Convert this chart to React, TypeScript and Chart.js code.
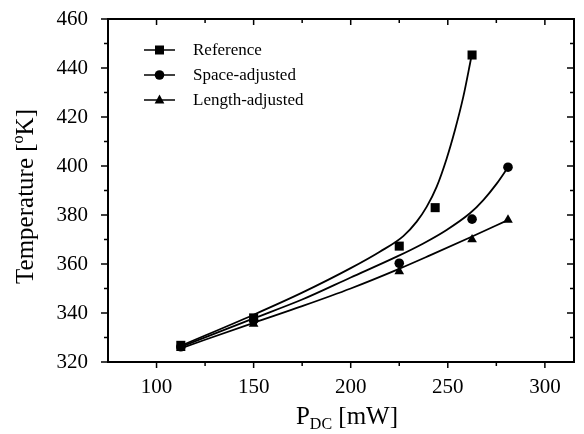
import React, { useEffect, useRef } from "react";
import { Chart, registerables } from "chart.js";

Chart.register(...registerables);

// Measured points
const pdcRef = [112.5, 150, 225, 243.5, 262.5];
const tempRef = [326.8, 338, 367.3, 383, 445.3];
const pdcSpace = [112.5, 150, 225, 262.5, 281];
const tempSpace = [326.2, 337, 360.3, 378.3, 399.5];
const pdcLength = [112.5, 150, 225, 262.5, 281];
const tempLength = [325.6, 335.5, 357, 370, 378];

// Fitted curves
const fitRefX = [112.5, 150, 175, 200, 215, 227.1, 234, 239.1, 244.3, 249.4, 253.7, 258, 262];
const fitRefY = [326.6, 339.3, 348.3, 358.3, 365, 371.4, 377.3, 383.3, 391.6, 403, 414.7, 428.3, 444];
const fitSpaceX = [112.5, 150, 175, 200, 223.7, 237.4, 249.4, 261.4, 268.3, 275.2, 281.2];
const fitSpaceY = [326.2, 337.8, 345.5, 354.5, 363, 368.4, 373.9, 380.7, 386.1, 392.8, 399.7];
const fitLengthX = [112.5, 150, 175, 200, 223.7, 240.8, 261.4, 281.2];
const fitLengthY = [325.6, 336, 342.8, 350, 357.6, 363.5, 370.8, 378];

const xTicks = [100, 150, 200, 250, 300];
const xMinor = [125, 175, 225, 275];
const yTicks = [320, 340, 360, 380, 400, 420, 440, 460];
const yMinor = [330, 350, 370, 390, 410, 430, 450];

const seriesNames = ["Reference", "Space-adjusted", "Length-adjusted"];
const seriesStyles = ["rect", "circle", "triangle"];

const FONT = "'Liberation Serif', 'Times New Roman', serif";

function pts(xs: number[], ys: number[]) {
  return xs.map((x, i) => ({ x, y: ys[i] }));
}

function drawMarker(ctx: CanvasRenderingContext2D, style: string, x: number, y: number) {
  ctx.beginPath();
  if (style === "rect") {
    ctx.rect(x - 4.5, y - 4.5, 9, 9);
  } else if (style === "circle") {
    ctx.arc(x, y, 4.8, 0, Math.PI * 2);
  } else {
    const r = 5.6;
    ctx.moveTo(x, y - r);
    ctx.lineTo(x + r * 0.866, y + r * 0.5 + 0.6);
    ctx.lineTo(x - r * 0.866, y + r * 0.5 + 0.6);
    ctx.closePath();
  }
  ctx.fill();
}

const framePlugin = {
  id: "frame",
  afterDraw(chart: any) {
    const { ctx, chartArea: a, scales } = chart;
    const xs = scales.x;
    const ys = scales.y;
    ctx.save();
    ctx.strokeStyle = "#000";
    ctx.fillStyle = "#000";
    ctx.lineWidth = 2;
    ctx.strokeRect(a.left, a.top, a.right - a.left, a.bottom - a.top);
    ctx.lineWidth = 1.5;
    ctx.beginPath();
    const tick = (vals: number[], len: number) => {
      vals.forEach((v) => {
        const px = xs.getPixelForValue(v);
        ctx.moveTo(px, a.bottom);
        ctx.lineTo(px, a.bottom + len);
        ctx.moveTo(px, a.top);
        ctx.lineTo(px, a.top + len);
      });
    };
    const ytick = (vals: number[], len: number) => {
      vals.forEach((v) => {
        const py = ys.getPixelForValue(v);
        ctx.moveTo(a.left, py);
        ctx.lineTo(a.left - len, py);
        ctx.moveTo(a.right, py);
        ctx.lineTo(a.right - len, py);
      });
    };
    tick(xTicks, 6);
    tick(xMinor, 4);
    ytick(yTicks, 7);
    ytick(yMinor, 4);
    ctx.stroke();

    // Legend
    const ly = [50, 75, 100];
    ctx.lineWidth = 1.5;
    seriesNames.forEach((name, i) => {
      ctx.beginPath();
      ctx.moveTo(144, ly[i]);
      ctx.lineTo(175, ly[i]);
      ctx.stroke();
      drawMarker(ctx, seriesStyles[i], 159.5, ly[i]);
      ctx.font = `17px ${FONT}`;
      ctx.textAlign = "left";
      ctx.textBaseline = "middle";
      ctx.fillText(name, 193, ly[i] + 1);
    });

    // Y title with superscript
    ctx.save();
    ctx.translate(26, (a.top + a.bottom) / 2 + 6);
    ctx.rotate(-Math.PI / 2);
    ctx.textBaseline = "middle";
    ctx.textAlign = "left";
    const big = `25px ${FONT}`;
    const small = `16px ${FONT}`;
    const p1 = "Temperature [";
    const p2 = "o";
    const p3 = "K]";
    ctx.font = big;
    const w1 = ctx.measureText(p1).width;
    const w3 = ctx.measureText(p3).width;
    ctx.font = small;
    const w2 = ctx.measureText(p2).width;
    const x0 = -(w1 + w2 + w3) / 2;
    ctx.font = big;
    ctx.fillText(p1, x0, 0);
    ctx.font = small;
    ctx.fillText(p2, x0 + w1, -7);
    ctx.font = big;
    ctx.fillText(p3, x0 + w1 + w2, 0);
    ctx.restore();

    // X title with subscript
    ctx.save();
    ctx.textBaseline = "alphabetic";
    ctx.textAlign = "left";
    const q1 = "P";
    const q2 = "DC";
    const q3 = " [mW]";
    ctx.font = big;
    const v1 = ctx.measureText(q1).width;
    const v3 = ctx.measureText(q3).width;
    ctx.font = small;
    const v2 = ctx.measureText(q2).width;
    const cx = (a.left + a.right) / 2 + 6;
    const xx = cx - (v1 + v2 + v3) / 2;
    const base = 424;
    ctx.font = big;
    ctx.fillText(q1, xx, base);
    ctx.font = small;
    ctx.fillText(q2, xx + v1, base + 5);
    ctx.font = big;
    ctx.fillText(q3, xx + v1 + v2, base);
    ctx.restore();

    ctx.restore();
  },
};

const zeroPad = (s: any) => {
  s.paddingTop = 0;
  s.paddingBottom = 0;
  s.paddingLeft = 0;
  s.paddingRight = 0;
};

export default function App() {
  const ref = useRef<HTMLCanvasElement>(null);
  useEffect(() => {
    if (!ref.current) return;
    const fitStyle = {
      borderColor: "#000",
      borderWidth: 1.8,
      pointRadius: 0,
      showLine: true,
      cubicInterpolationMode: "monotone" as const,
      fill: false,
    };
    const markStyle = {
      backgroundColor: "#000",
      borderColor: "#000",
      borderWidth: 0,
      showLine: false,
    };
    const chart = new Chart(ref.current, {
      type: "scatter",
      data: {
        datasets: [
          { ...fitStyle, label: "fitRef", data: pts(fitRefX, fitRefY) },
          { ...fitStyle, label: "fitSpace", data: pts(fitSpaceX, fitSpaceY) },
          { ...fitStyle, label: "fitLength", data: pts(fitLengthX, fitLengthY) },
          { ...markStyle, label: seriesNames[0], data: pts(pdcRef, tempRef), pointStyle: "rect", pointRadius: 6.4 },
          { ...markStyle, label: seriesNames[1], data: pts(pdcSpace, tempSpace), pointStyle: "circle", pointRadius: 4.8 },
          { ...markStyle, label: seriesNames[2], data: pts(pdcLength, tempLength), pointStyle: "triangle", pointRadius: 5.6 },
        ],
      },
      options: {
        animation: false,
        responsive: true,
        maintainAspectRatio: false,
        layout: { padding: { top: 19, right: 10, left: 0, bottom: 0 } },
        plugins: { legend: { display: false }, tooltip: { enabled: false } },
        scales: {
          x: {
            type: "linear",
            min: 75,
            max: 315,
            grid: { display: false },
            border: { display: false },
            ticks: {
              color: "#000",
              font: { family: FONT, size: 21 },
              padding: 5,
              maxRotation: 0,
            },
            afterBuildTicks: (s: any) => {
              s.ticks = xTicks.map((v) => ({ value: v }));
            },
            afterFit: (s: any) => {
              s.height = 72;
              zeroPad(s);
            },
          },
          y: {
            type: "linear",
            min: 320,
            max: 460,
            grid: { display: false },
            border: { display: false },
            ticks: {
              color: "#000",
              font: { family: FONT, size: 21 },
              padding: 12,
            },
            afterBuildTicks: (s: any) => {
              s.ticks = yTicks.map((v) => ({ value: v }));
            },
            afterFit: (s: any) => {
              s.width = 108;
              zeroPad(s);
            },
          },
        },
      },
      plugins: [framePlugin],
    });
    return () => chart.destroy();
  }, []);
  return (
    <div style={{ position: "fixed", left: 0, top: 0, width: 584, height: 434, background: "#fff" }}>
      <canvas ref={ref} />
    </div>
  );
}
